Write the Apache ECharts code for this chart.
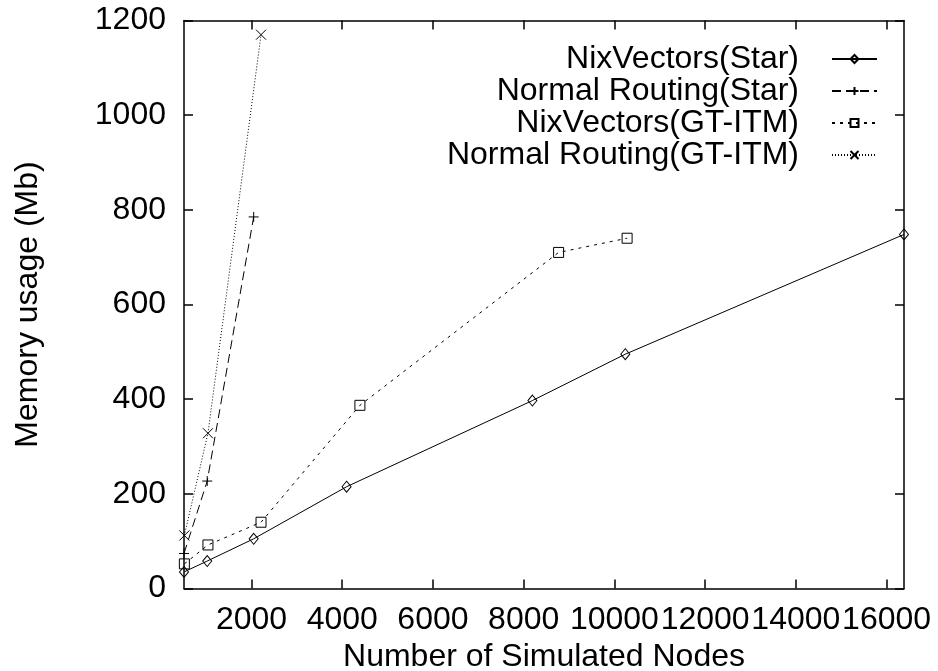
<!DOCTYPE html>
<html>
<head>
<meta charset="utf-8">
<script src="https://cdn.jsdelivr.net/npm/echarts@6/dist/echarts.min.js"></script>
<style>
html,body{margin:0;padding:0;background:#fff;}
#chart{width:938px;height:671px;}
</style>
</head>
<body>
<div id="chart"></div>
<script>
// ---- data ----
const xTicks = [2000, 4000, 6000, 8000, 10000, 12000, 14000, 16000];
const starNodes = [512, 1024, 2048, 4096, 8192, 10240, 16384];
const nixStar = [35, 58, 105, 215, 397, 495, 748];
const normalStarNodes = [512, 1024, 2048];
const normalStar = [74, 227, 785];
const gtNodes = [520, 1040, 2210, 4390, 8770, 10280];
const nixGT = [52, 92, 140, 387, 710, 740];
const normalGTNodes = [520, 1040, 2210];
const normalGT = [112, 328, 1170];
const seriesNames = ['NixVectors(Star)', 'Normal Routing(Star)', 'NixVectors(GT-ITM)', 'Normal Routing(GT-ITM)'];

function pairs(xs, ys) { return xs.map((x, i) => [x, ys[i]]); }

const FONT = 'Liberation Sans';
const FS = 32;
const chart = echarts.init(document.getElementById('chart'), null, {renderer: 'canvas'});

const axisCommon = {
  axisLine: {show: true, onZero: false, lineStyle: {color: '#000', width: 1.5}},
  splitLine: {show: false},
};
const plain = v => String(v);

const mk = (name, data, lineType, symbol, size) => ({
  name: name,
  type: 'line',
  data: data,
  symbol: symbol,
  symbolSize: size,
  showSymbol: true,
  animation: false,
  lineStyle: {color: '#000', width: 1, type: lineType},
  itemStyle: {color: 'rgba(255,255,255,0)', borderColor: '#000', borderWidth: 1},
  emphasis: {disabled: true},
  z: 3
});

chart.setOption({
  animation: false,
  backgroundColor: '#fff',
  textStyle: {fontFamily: FONT},
  grid: {left: 184, right: 34, top: 20.5, bottom: 82.5, containLabel: false, outerBoundsMode: 'none'},
  legend: {
    orient: 'vertical',
    right: 55,
    top: 38,
    align: 'right',
    itemWidth: 45,
    itemHeight: 10,
    itemGap: 0,
    data: seriesNames,
    textStyle: {fontFamily: FONT, fontSize: FS, color: '#000', lineHeight: 30, padding: [0, 28, 0, 0]}
  },
  xAxis: [
    Object.assign({}, axisCommon, {
      type: 'value', min: 512, max: 16384, position: 'bottom',
      name: 'Number of Simulated Nodes', nameLocation: 'middle', nameGap: 45,
      nameTextStyle: {fontFamily: FONT, fontSize: FS, color: '#000'},
      axisTick: {show: true, inside: true, length: 9, customValues: xTicks, lineStyle: {color: '#000', width: 1.5}},
      axisLabel: {show: true, customValues: xTicks, formatter: plain, color: '#000', fontFamily: FONT, fontSize: FS, margin: 16, hideOverlap: false}
    }),
    Object.assign({}, axisCommon, {
      type: 'value', min: 512, max: 16384, position: 'top',
      axisTick: {show: true, inside: true, length: 9, customValues: xTicks, lineStyle: {color: '#000', width: 1.5}},
      axisLabel: {show: false}
    })
  ],
  yAxis: [
    Object.assign({}, axisCommon, {
      type: 'value', min: 0, max: 1200, interval: 200, position: 'left',
      name: 'Memory usage (Mb)', nameLocation: 'middle', nameGap: 140,
      nameTextStyle: {fontFamily: FONT, fontSize: FS, color: '#000'},
      axisTick: {show: true, inside: true, length: 9, lineStyle: {color: '#000', width: 1.5}},
      axisLabel: {color: '#000', formatter: plain, fontFamily: FONT, fontSize: FS, margin: 18}
    }),
    Object.assign({}, axisCommon, {
      type: 'value', min: 0, max: 1200, interval: 200, position: 'right',
      axisTick: {show: true, inside: true, length: 9, lineStyle: {color: '#000', width: 1.5}},
      axisLabel: {show: false}
    })
  ],
  series: [
    mk(seriesNames[0], pairs(starNodes, nixStar), 'solid', 'diamond', [9, 11]),
    mk(seriesNames[1], pairs(normalStarNodes, normalStar), [9, 5], 'path://M5,0L5,10M0,5L10,5', 10),
    mk(seriesNames[2], pairs(gtNodes, nixGT), [3, 5], 'rect', 10),
    mk(seriesNames[3], pairs(normalGTNodes, normalGT), [1, 2], 'path://M0,0L10,10M10,0L0,10', 10)
  ]
});
</script>
</body>
</html>
